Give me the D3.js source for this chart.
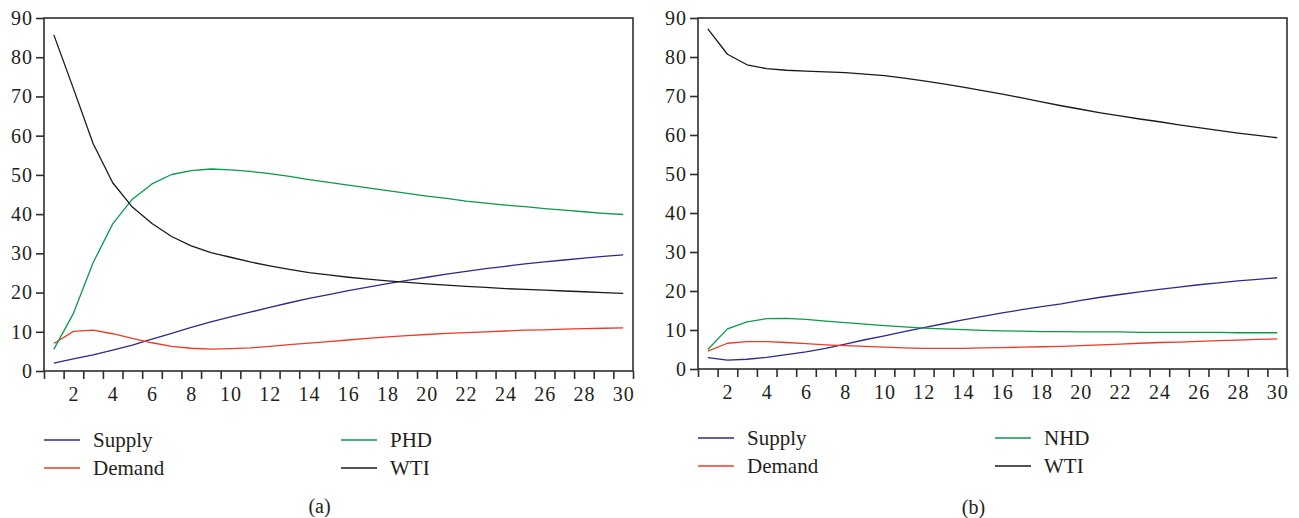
<!DOCTYPE html>
<html>
<head>
<meta charset="utf-8">
<script src="https://cdn.jsdelivr.net/npm/d3@7"></script>
<style>
  html, body { margin: 0; padding: 0; background: #fff; }
  svg { display: block; }
  text { font-family: "Liberation Serif", "DejaVu Serif", serif; fill: #231f20; }
</style>
</head>
<body>
<svg id="chart" width="1299" height="518"></svg>
<script>
// ---- data ----
const periods = d3.range(1, 31);
const yTicks = [0, 10, 20, 30, 40, 50, 60, 70, 80, 90];
const xTickLabels = [2, 4, 6, 8, 10, 12, 14, 16, 18, 20, 22, 24, 26, 28, 30];

const supplyA = [2.0, 3.1, 4.1, 5.3, 6.6, 8.1, 9.6, 11.1, 12.5, 13.8, 15.0, 16.2, 17.4, 18.5, 19.5,
                 20.5, 21.4, 22.3, 23.1, 23.9, 24.7, 25.4, 26.1, 26.7, 27.3, 27.8, 28.3, 28.8, 29.2, 29.6];
const demandA = [7.0, 10.1, 10.4, 9.5, 8.3, 7.2, 6.3, 5.8, 5.6, 5.7, 5.9, 6.3, 6.7, 7.1, 7.5,
                 7.9, 8.3, 8.7, 9.0, 9.3, 9.6, 9.8, 10.0, 10.2, 10.4, 10.5, 10.7, 10.8, 10.9, 11.0];
const phdA    = [5.5, 14.7, 27.6, 37.5, 43.8, 47.7, 50.1, 51.1, 51.5, 51.3, 50.9, 50.3, 49.6, 48.8, 48.1,
                 47.4, 46.7, 46.0, 45.3, 44.6, 44.0, 43.3, 42.8, 42.3, 41.9, 41.4, 41.0, 40.6, 40.2, 39.9];
const wtiA    = [85.7, 72.0, 58.0, 48.0, 41.8, 37.6, 34.3, 31.9, 30.2, 29.0, 27.8, 26.8, 25.9, 25.1, 24.5,
                 23.9, 23.4, 23.0, 22.6, 22.2, 21.9, 21.6, 21.3, 21.0, 20.8, 20.6, 20.4, 20.2, 20.0, 19.8];

const supplyB = [2.9, 2.3, 2.5, 3.0, 3.7, 4.4, 5.3, 6.4, 7.5, 8.5, 9.6, 10.6, 11.6, 12.6, 13.5,
                 14.4, 15.2, 16.0, 16.7, 17.6, 18.4, 19.1, 19.8, 20.4, 21.0, 21.6, 22.1, 22.6, 23.0, 23.4];
const demandB = [4.6, 6.6, 7.0, 7.0, 6.8, 6.5, 6.2, 6.0, 5.8, 5.6, 5.4, 5.3, 5.3, 5.3, 5.4,
                 5.5, 5.6, 5.7, 5.8, 6.0, 6.2, 6.4, 6.6, 6.8, 6.9, 7.1, 7.3, 7.4, 7.6, 7.7];
const nhdB    = [5.0, 10.3, 12.1, 12.9, 13.0, 12.7, 12.3, 11.9, 11.5, 11.1, 10.8, 10.5, 10.3, 10.1, 9.9,
                 9.8, 9.7, 9.6, 9.6, 9.5, 9.5, 9.5, 9.4, 9.4, 9.4, 9.4, 9.4, 9.3, 9.3, 9.3];
const wtiB    = [87.2, 80.7, 78.0, 77.0, 76.6, 76.4, 76.2, 76.0, 75.6, 75.2, 74.6, 73.9, 73.1, 72.3, 71.4,
                 70.5, 69.5, 68.5, 67.5, 66.6, 65.7, 64.9, 64.1, 63.4, 62.6, 61.9, 61.2, 60.5, 59.9, 59.3];

const seriesNamesA = ["Supply", "Demand", "PHD", "WTI"];
const seriesNamesB = ["Supply", "Demand", "NHD", "WTI"];
const colors = ["#2b2a8c", "#f03a24", "#0a9a4a", "#1a1a1a"];

// ---- drawing ----
const svg = d3.select("#chart");
const frameColor = "#2e2e2e";

function panel(cfg) {
  const g = svg.append("g");
  const x = d3.scaleLinear().domain([0.5, 30.5]).range([cfg.x0, cfg.x1]);
  const y = d3.scaleLinear().domain([0, 90]).range([cfg.y1, cfg.y0]);

  // lines
  const line = d3.line().x((d, i) => x(periods[i])).y(d => y(d));
  cfg.series.forEach((s, k) => {
    g.append("path").datum(s)
      .attr("fill", "none").attr("stroke", colors[k])
      .attr("stroke-width", 1.3).attr("stroke-linejoin", "round")
      .attr("d", line);
  });

  // frame
  g.append("rect")
    .attr("x", cfg.x0).attr("y", cfg.y0)
    .attr("width", cfg.x1 - cfg.x0).attr("height", cfg.y1 - cfg.y0)
    .attr("fill", "none").attr("stroke", frameColor).attr("stroke-width", 1.6);

  // y axis
  const yAx = g.append("g").attr("transform", `translate(${cfg.x0},0)`)
    .call(d3.axisLeft(y).tickValues(yTicks).tickSize(8).tickPadding(3).tickFormat(d3.format("d")));
  yAx.select(".domain").remove();
  yAx.selectAll(".tick line").attr("stroke", frameColor).attr("stroke-width", 1.6);
  yAx.selectAll(".tick text").attr("font-size", 20).attr("letter-spacing", "1px").attr("fill", "#231f20")
    .attr("font-family", "Liberation Serif, DejaVu Serif, serif");

  // x axis: ticks at period boundaries
  const boundaries = d3.range(0, 31).map(i => i + 0.5);
  const xAx = g.append("g").attr("transform", `translate(0,${cfg.y1})`)
    .call(d3.axisBottom(x).tickValues(boundaries).tickSize(8).tickFormat(""));
  xAx.select(".domain").remove();
  xAx.selectAll(".tick line").attr("stroke", frameColor).attr("stroke-width", 1.6);

  // x labels at even periods
  const xLab = g.append("g").attr("transform", `translate(0,${cfg.y1})`)
    .call(d3.axisBottom(x).tickValues(xTickLabels).tickSize(0).tickPadding(16).tickFormat(d3.format("d")));
  xLab.select(".domain").remove();
  xLab.selectAll(".tick text").attr("font-size", 20).attr("letter-spacing", "1px").attr("fill", "#231f20")
    .attr("font-family", "Liberation Serif, DejaVu Serif, serif");

  // legend
  const leg = g.append("g");
  const cols = [cfg.x0, cfg.x0 + 297];
  const rows = [cfg.legY, cfg.legY + 28];
  const order = [[0, 0, 0], [1, 0, 1], [2, 1, 0], [3, 1, 1]];
  order.forEach(([k, c, r]) => {
    leg.append("line")
      .attr("x1", cols[c]).attr("x2", cols[c] + 36)
      .attr("y1", rows[r]).attr("y2", rows[r])
      .attr("stroke", colors[k]).attr("stroke-width", 1.3);
    leg.append("text")
      .attr("x", cols[c] + 49).attr("y", rows[r]).attr("dy", "0.35em")
      .attr("font-size", 21).text(cfg.names[k]);
  });

  g.append("text")
    .attr("x", (cfg.x0 + cfg.x1) / 2 - 19).attr("y", cfg.capY).attr("dy", "0.35em")
    .attr("text-anchor", "middle").attr("font-size", 20).text(cfg.caption);
}

panel({ x0: 44, x1: 633, y0: 18, y1: 371, legY: 440, capY: 506,
        series: [supplyA, demandA, phdA, wtiA], names: seriesNamesA, caption: "(a)" });
panel({ x0: 698, x1: 1287, y0: 18, y1: 369, legY: 438, capY: 507,
        series: [supplyB, demandB, nhdB, wtiB], names: seriesNamesB, caption: "(b)" });
</script>
</body>
</html>
